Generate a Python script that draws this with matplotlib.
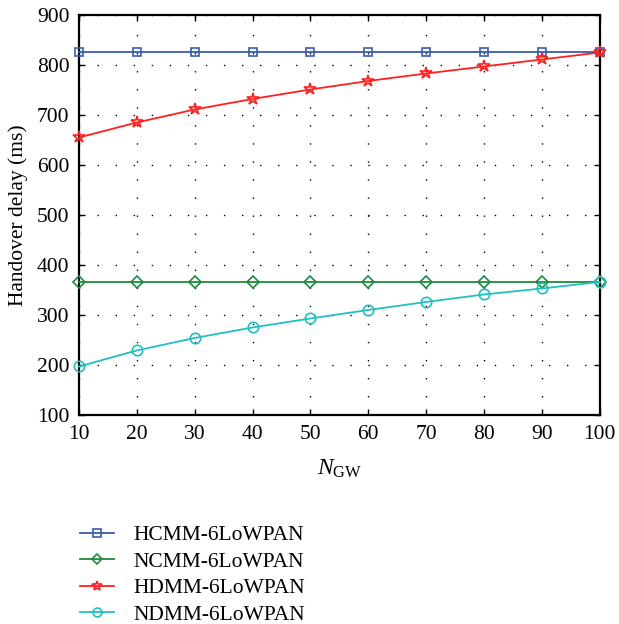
import matplotlib
matplotlib.use("Agg")
import matplotlib.pyplot as plt
from matplotlib.lines import Line2D

plt.rcParams['font.family'] = ['Liberation Serif', 'DejaVu Serif']
plt.rcParams['mathtext.fontset'] = 'custom'
plt.rcParams['mathtext.rm'] = 'Liberation Serif'
plt.rcParams['mathtext.it'] = 'Liberation Serif:italic'

n_gw = [10, 20, 30, 40, 50, 60, 70, 80, 90, 100]
hcmm = [825, 825, 825, 825, 825, 825, 825, 825, 825, 825]
ncmm = [366, 366, 366, 366, 366, 366, 366, 366, 366, 366]
hdmm = [655, 685, 711, 732, 751, 768, 783, 797, 811, 825]
ndmm = [197, 229, 254, 275, 293, 310, 326, 341, 353, 366]
labels = ["HCMM-6LoWPAN", "NCMM-6LoWPAN", "HDMM-6LoWPAN", "NDMM-6LoWPAN"]
colors = ["#3a5bb0", "#1e8a3c", "#ff2020", "#20c0c0"]
markers = ["s", "D", "*", "o"]
msizes = [6, 6.5, 9, 7.5]

fig = plt.figure(figsize=(6.19, 6.24), dpi=100)
ax = fig.add_axes([0.1276, 0.335, 0.8414, 0.641])

series = [hcmm, ncmm, hdmm, ndmm]
handles = []
for s, lab, c, m, ms in zip(series, labels, colors, markers, msizes):
    ax.plot(n_gw, s, color=c, marker=m, markersize=ms, markerfacecolor='none',
            markeredgecolor=c, markeredgewidth=1.2, linewidth=1.3, clip_on=False, zorder=3)
    handles.append(Line2D([], [], color=c, marker=m, markersize=ms * 0.85,
                          markerfacecolor='none', markeredgecolor=c,
                          markeredgewidth=1.2, linewidth=1.3, label=lab))

ax.set_xlim(10, 100)
ax.set_ylim(100, 900)
ax.set_xticks(n_gw)
ax.set_yticks(range(100, 901, 100))
ax.grid(True, color='black', linestyle=(0, (1, 12)), linewidth=1.0)
ax.tick_params(direction='in', length=4, width=1, top=True, right=True, labelsize=15.5, pad=7)
for sp in ax.spines.values():
    sp.set_linewidth(1.6)

ax.set_xlabel(r"$\mathit{N}_{\mathrm{GW}}$", fontsize=17, labelpad=10)
ax.set_ylabel("Handover delay (ms)", fontsize=15.5, labelpad=6)

fig.legend(handles=handles, loc='upper left', bbox_to_anchor=(0.115, 0.172),
           frameon=False, fontsize=15.5, handlelength=1.6, handletextpad=0.9,
           labelspacing=0.3, borderaxespad=0)

fig.savefig("out.png", dpi=100)
